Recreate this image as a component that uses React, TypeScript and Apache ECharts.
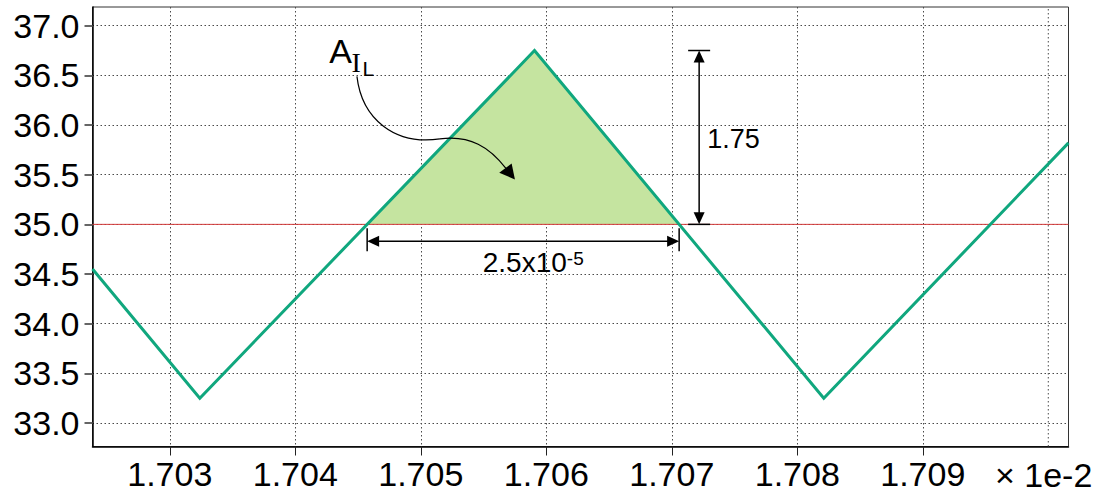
import { useEffect, useRef } from 'react';
import * as echarts from 'echarts';

// Inductor current over one switching period (time in seconds, current in amperes)
const timeS = [0.01702384, 0.01703239, 0.01705906, 0.01708211, 0.01710161];
const currentA = [34.55, 33.25, 36.75, 33.25, 35.82];
const PEAK_INDEX = 2;
const AVG_CURRENT = 35.0;

// Axis setup
const X_SCALE = 1e-2;
const X_MIN = 0.01702384;
const X_MAX = 0.01710161;
const Y_MIN = 32.764;
const Y_MAX = 37.188;
const xTickValues = [0.01703, 0.01704, 0.01705, 0.01706, 0.01707, 0.01708, 0.01709];
const xExtraGridValues = [0.0171];
const yTickValues = [33.0, 33.5, 34.0, 34.5, 35.0, 35.5, 36.0, 36.5, 37.0];

const FONT = '"Liberation Sans", Arial, Helvetica, sans-serif';
const SERIF = '"Liberation Serif", "DejaVu Serif", serif';
const LINE_COLOR = '#10a77e';
const FILL_COLOR = '#c5e4a0';
const AVG_COLOR = '#d33a3a';
const GRID_COLOR = '#4a4a4a';

// time at which the segment between two samples passes through a given level
function levelCrossing(i0: number, i1: number, level: number) {
  const x0 = timeS[i0];
  const x1 = timeS[i1];
  const y0 = currentA[i0];
  const y1 = currentA[i1];
  return x0 + ((level - y0) * (x1 - x0)) / (y1 - y0);
}

const riseCross = levelCrossing(PEAK_INDEX - 1, PEAK_INDEX, AVG_CURRENT);
const fallCross = levelCrossing(PEAK_INDEX, PEAK_INDEX + 1, AVG_CURRENT);
const rippleHeight = currentA[PEAK_INDEX] - AVG_CURRENT;
const rippleWidth = fallCross - riseCross;

const blackLine = (x1: number, y1: number, x2: number, y2: number, w = 1.5) => ({
  type: 'line',
  shape: { x1, y1, x2, y2 },
  style: { stroke: '#000', lineWidth: w },
});

const blackHead = (pts: number[][]) => ({
  type: 'polygon',
  shape: { points: pts },
  style: { fill: '#000' },
});

const label = (
  text: string,
  x: number,
  y: number,
  size: number,
  align: string,
  family = FONT
) => ({
  type: 'text',
  x,
  y,
  style: {
    text,
    fill: '#000',
    fontSize: size,
    fontFamily: family,
    align,
    verticalAlign: 'middle',
  },
});

export default function App() {
  const ref = useRef<HTMLDivElement>(null);

  useEffect(() => {
    document.body.style.margin = '0';
    if (!ref.current) return;
    const chart = echarts.init(ref.current, undefined, { renderer: 'svg' });

    const option: any = {
      animation: false,
      backgroundColor: '#fff',
      grid: {
        left: 92.5,
        right: 37.5,
        top: 7,
        bottom: 45.5,
        show: true,
        borderColor: '#333',
        borderWidth: 1,
        backgroundColor: 'transparent',
      },
      xAxis: {
        type: 'value',
        min: X_MIN,
        max: X_MAX,
        axisLine: { show: true, lineStyle: { color: '#000', width: 1.5 } },
        axisTick: {
          show: true,
          customValues: xTickValues,
          length: 9,
          lineStyle: { color: '#222', width: 1 },
        },
        axisLabel: {
          customValues: xTickValues,
          formatter: (v: number) => (v / X_SCALE).toFixed(3),
          fontSize: 34,
          lineHeight: 34,
          fontFamily: FONT,
          color: '#000',
          margin: 10,
        },
        splitLine: {
          show: true,
          lineStyle: { type: [1.5, 2.5], color: GRID_COLOR, width: 1 },
        },
      },
      yAxis: {
        type: 'value',
        min: Y_MIN,
        max: Y_MAX,
        axisLine: { show: true, lineStyle: { color: '#000', width: 1.5 } },
        axisTick: {
          show: true,
          customValues: yTickValues,
          length: 8,
          lineStyle: { color: '#666', width: 2 },
        },
        axisLabel: {
          customValues: yTickValues,
          formatter: (v: number) => v.toFixed(1),
          fontSize: 34,
          fontFamily: FONT,
          color: '#000',
          margin: 13,
        },
        splitLine: {
          show: true,
          lineStyle: { type: [1.5, 2.5], color: GRID_COLOR, width: 1 },
        },
      },
      graphic: [
        {
          type: 'text',
          x: 995,
          y: 474.5,
          style: {
            text: '× 1e-2',
            fill: '#000',
            fontSize: 34,
            fontFamily: FONT,
            align: 'left',
            verticalAlign: 'middle',
          },
        },
      ],
      series: [
        {
          // extra vertical grid line and the shaded ripple area above the average
          type: 'custom',
          z: 1,
          silent: true,
          data: [[timeS[PEAK_INDEX], currentA[PEAK_INDEX]]],
          renderItem: (_params: any, api: any) => {
            const children: any[] = [];
            xExtraGridValues.forEach((gx) => {
              const p0 = api.coord([gx, Y_MIN]);
              const p1 = api.coord([gx, Y_MAX]);
              children.push({
                type: 'line',
                shape: { x1: p0[0], y1: p0[1], x2: p1[0], y2: p1[1] },
                style: { stroke: GRID_COLOR, lineWidth: 1, lineDash: [1.5, 2.5] },
              });
            });
            const a = api.coord([riseCross, AVG_CURRENT]);
            const p = api.coord([timeS[PEAK_INDEX], currentA[PEAK_INDEX]]);
            const b = api.coord([fallCross, AVG_CURRENT]);
            children.push({
              type: 'polygon',
              shape: { points: [a, p, b] },
              style: { fill: FILL_COLOR },
            });
            return { type: 'group', children };
          },
        },
        {
          name: 'average',
          type: 'line',
          z: 2,
          silent: true,
          symbol: 'none',
          data: [
            [X_MIN, AVG_CURRENT],
            [X_MAX, AVG_CURRENT],
          ],
          lineStyle: { color: AVG_COLOR, width: 1 },
        },
        {
          name: 'iL',
          type: 'line',
          z: 3,
          symbol: 'none',
          data: timeS.map((t, i) => [t, currentA[i]]),
          lineStyle: { color: LINE_COLOR, width: 3, join: 'miter' },
        },
        {
          // dimension arrows and the area label
          type: 'custom',
          z: 4,
          silent: true,
          clip: false,
          data: [[timeS[PEAK_INDEX], currentA[PEAK_INDEX]]],
          renderItem: (_params: any, api: any) => {
            const children: any[] = [];
            const a = api.coord([riseCross, AVG_CURRENT]);
            const p = api.coord([timeS[PEAK_INDEX], currentA[PEAK_INDEX]]);
            const b = api.coord([fallCross, AVG_CURRENT]);
            const baseY = b[1];

            // vertical ripple height
            const vx = b[0] + 20;
            const topY = p[1];
            children.push(blackLine(vx - 11, topY, vx + 11, topY));
            children.push(blackLine(vx - 11, baseY, vx + 11, baseY));
            children.push(blackLine(vx, topY + 10, vx, baseY - 10));
            children.push(blackHead([[vx, topY], [vx - 5.5, topY + 12], [vx + 5.5, topY + 12]]));
            children.push(blackHead([[vx, baseY], [vx - 5.5, baseY - 12], [vx + 5.5, baseY - 12]]));
            children.push(label(rippleHeight.toFixed(2), vx + 8, (topY + baseY) / 2 + 2, 27, 'left'));

            // horizontal ripple width
            const hy = baseY + 17;
            children.push(blackLine(a[0], baseY + 4, a[0], baseY + 27));
            children.push(blackLine(b[0], baseY + 4, b[0], baseY + 27));
            children.push(blackLine(a[0] + 10, hy, b[0] - 10, hy));
            children.push(blackHead([[a[0], hy], [a[0] + 12, hy - 5.5], [a[0] + 12, hy + 5.5]]));
            children.push(blackHead([[b[0], hy], [b[0] - 12, hy - 5.5], [b[0] - 12, hy + 5.5]]));
            const midX = (a[0] + b[0]) / 2;
            const joinX = midX + 43.7;
            children.push(label((rippleWidth / 1e-5).toFixed(1) + 'x10', joinX, baseY + 38.6, 28, 'right'));
            children.push(label('-5', joinX, baseY + 33.7, 19, 'left'));

            // area label with curved pointer into the shaded triangle
            const cx = (a[0] + p[0] + b[0]) / 3;
            const cy = (a[1] + p[1] + b[1]) / 3;
            const tx = cx - 12;
            const ty = cy + 13;
            children.push({
              type: 'bezierCurve',
              shape: {
                x1: tx - 158, y1: ty - 103,
                cpx1: tx - 153, cpy1: ty - 60,
                cpx2: tx - 120, cpy2: ty - 34,
                x2: tx - 75, y2: ty - 40.5,
              },
              style: { stroke: '#000', lineWidth: 1.2, fill: 'none' },
            });
            children.push({
              type: 'bezierCurve',
              shape: {
                x1: tx - 75, y1: ty - 40.5,
                cpx1: tx - 45, cpy1: ty - 44.8,
                cpx2: tx - 25, cpy2: ty - 32,
                x2: tx - 9, y2: ty - 11,
              },
              style: { stroke: '#000', lineWidth: 1.2, fill: 'none' },
            });
            children.push(blackHead([[tx, ty], [tx - 15.7, ty - 6.7], [tx - 3.3, ty - 16]]));
            children.push(label('A', tx - 163, ty - 128.7, 34, 'right'));
            children.push(label('I', tx - 163.5, ty - 117.3, 28, 'left', SERIF));
            children.push(label('L', tx - 152.5, ty - 110.8, 21, 'left'));

            return { type: 'group', children };
          },
        },
      ],
    };

    chart.setOption(option);
    return () => chart.dispose();
  }, []);

  return <div ref={ref} style={{ width: 1106, height: 492 }} />;
}
